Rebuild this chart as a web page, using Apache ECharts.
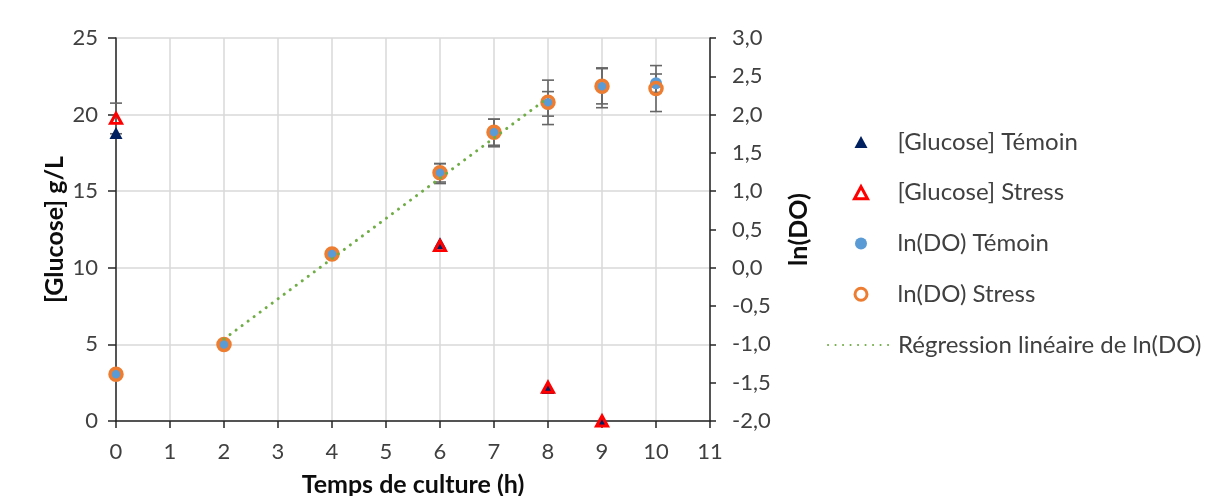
<!DOCTYPE html>
<html>
<head>
<meta charset="utf-8">
<script src="https://cdn.jsdelivr.net/npm/echarts@6/dist/echarts.min.js"></script>
<style>
  html, body { margin: 0; padding: 0; background: #ffffff; }
  #chart { width: 1208px; height: 496px; }
</style>
</head>
<body>
<div id="chart"></div>
<script>
// ---- Data ----
const glucoseHours = [0, 6, 8, 9];
const glucoseTemoin = [18.8, 11.6, 2.15, 0];
const glucoseStress = [19.75, 11.45, 2.2, 0];
const glucoseTemoinErr = [0, 0, 0, 0];
const glucoseStressErr = [1.0, 0, 0, 0];

const lnHours = [0, 2, 4, 6, 7, 8, 9, 10];
const lnTemoin = [-1.39, -1.0, 0.18, 1.23, 1.76, 2.14, 2.35, 2.41];
const lnStress = [-1.39, -1.0, 0.18, 1.24, 1.77, 2.16, 2.37, 2.34];
const lnTemoinErr = [0, 0, 0, 0.13, 0.18, 0.16, 0.26, 0.12];
const lnStressErr = [0, 0, 0, 0.12, 0.17, 0.29, 0.23, 0.30];

const regressionHours = [2, 8];
const regressionValues = [-0.93, 2.22];

const seriesNames = ['[Glucose] Témoin', '[Glucose] Stress', 'ln(DO) Témoin', 'ln(DO) Stress', 'Régression linéaire de ln(DO)'];
const xAxisName = 'Temps de culture (h)';
const leftAxisName = '[Glucose] g/L';
const rightAxisName = 'ln(DO)';

// ---- Helpers ----
const FONT = 'Lato';
const pairs = (xs, ys) => xs.map((x, i) => [x, ys[i]]);
const errData = (xs, ys, es) => xs.map((x, i) => [x, ys[i] - es[i], ys[i] + es[i]]).filter((d, i) => es[i] > 0);

function errorBarRender(params, api) {
  const x = api.value(0);
  const lo = api.coord([x, api.value(1)]);
  const hi = api.coord([x, api.value(2)]);
  const half = 6;
  const style = { stroke: '#666666', lineWidth: 1.6, fill: null };
  return {
    type: 'group',
    children: [
      { type: 'line', shape: { x1: lo[0], y1: lo[1], x2: hi[0], y2: hi[1] }, style: style },
      { type: 'line', shape: { x1: hi[0] - half, y1: hi[1], x2: hi[0] + half, y2: hi[1] }, style: style },
      { type: 'line', shape: { x1: lo[0] - half, y1: lo[1], x2: lo[0] + half, y2: lo[1] }, style: style }
    ]
  };
}

const errSeries = (data, yAxisIndex) => ({
  type: 'custom',
  coordinateSystem: 'cartesian2d',
  yAxisIndex: yAxisIndex,
  renderItem: errorBarRender,
  data: data,
  encode: { x: 0, y: [1, 2] },
  z: 1,
  silent: true
});

const axisLineStyle = { color: '#262626', width: 1.5 };
const labelStyle = { color: '#404040', fontFamily: FONT, fontSize: 22 };
const nameStyle = { color: '#0d0d0d', fontFamily: FONT, fontSize: 25, fontWeight: 'bold' };
const legendText = { color: '#404040', fontFamily: FONT, fontSize: 24, lineHeight: 26 };

const option = {
  animation: false,
  backgroundColor: '#ffffff',
  grid: { left: 116, right: 498, top: 38, bottom: 75, containLabel: false, outerBoundsMode: 'none' },
  legend: [
    {
      orient: 'vertical',
      left: 848,
      top: 124,
      itemWidth: 13,
      itemHeight: 12,
      itemGap: 24.75,
      selectedMode: false,
      textStyle: Object.assign({ padding: [0, 0, 0, 25] }, legendText),
      data: [
        { name: seriesNames[0], icon: 'triangle', itemStyle: { color: '#002060', borderWidth: 0 } },
        { name: seriesNames[1], icon: 'triangle', itemStyle: { color: '#ffffff', borderColor: '#ff0000', borderWidth: 3 } },
        { name: seriesNames[2], icon: 'circle', itemStyle: { color: '#5b9bd5', borderWidth: 0 } },
        { name: seriesNames[3], icon: 'circle', itemStyle: { color: '#ffffff', borderColor: '#ed7d31', borderWidth: 3 } }
      ]
    },
    {
      orient: 'vertical',
      left: 822,
      top: 327,
      itemWidth: 65,
      itemHeight: 12,
      selectedMode: false,
      textStyle: Object.assign({ padding: [0, 0, 0, 0] }, legendText),
      data: [
        { name: seriesNames[4], itemStyle: { color: 'rgba(0,0,0,0)', borderWidth: 0, opacity: 0 } }
      ]
    }
  ],
  xAxis: {
    type: 'value',
    min: 0, max: 11, interval: 1,
    name: xAxisName,
    nameLocation: 'middle',
    nameGap: 51,
    nameTextStyle: nameStyle,
    axisLine: { show: true, onZero: false, lineStyle: axisLineStyle },
    axisTick: { show: true, length: 7, lineStyle: axisLineStyle },
    axisLabel: Object.assign({ margin: 20 }, labelStyle),
    splitLine: { show: true, lineStyle: { color: '#d9d9d9', width: 1.5 } }
  },
  yAxis: [
    {
      type: 'value',
      position: 'left',
      min: 0, max: 25, interval: 5,
      name: leftAxisName,
      nameLocation: 'middle',
      nameRotate: 90,
      nameGap: 49,
      nameTextStyle: nameStyle,
      axisLine: { show: true, lineStyle: axisLineStyle },
      axisTick: { show: true, length: 8, lineStyle: axisLineStyle },
      axisLabel: Object.assign({ margin: 18 }, labelStyle),
      splitLine: { show: true, lineStyle: { color: '#d9d9d9', width: 1.5 } }
    },
    {
      type: 'value',
      position: 'right',
      min: -2, max: 3, interval: 0.5,
      name: rightAxisName,
      nameLocation: 'middle',
      nameRotate: 90,
      nameGap: 76,
      nameTextStyle: nameStyle,
      axisLine: { show: true, lineStyle: axisLineStyle },
      axisTick: { show: true, length: 6, lineStyle: axisLineStyle },
      axisLabel: Object.assign({ margin: 22, formatter: v => v.toFixed(1).replace('.', ',') }, labelStyle),
      splitLine: { show: false }
    }
  ],
  series: [
    errSeries(errData(glucoseHours, glucoseTemoin, glucoseTemoinErr), 0),
    errSeries(errData(glucoseHours, glucoseStress, glucoseStressErr), 0),
    errSeries(errData(lnHours, lnTemoin, lnTemoinErr), 1),
    errSeries(errData(lnHours, lnStress, lnStressErr), 1),
    {
      name: seriesNames[0],
      type: 'scatter',
      yAxisIndex: 0,
      symbol: 'triangle',
      symbolSize: [13, 12],
      itemStyle: { color: '#002060', opacity: 1 },
      data: pairs(glucoseHours, glucoseTemoin),
      z: 3
    },
    {
      name: seriesNames[1],
      type: 'scatter',
      yAxisIndex: 0,
      symbol: 'triangle',
      symbolSize: [11, 10],
      itemStyle: { color: 'rgba(255,255,255,0)', borderColor: '#ff0000', borderWidth: 3, opacity: 1 },
      data: pairs(glucoseHours, glucoseStress),
      z: 4
    },
    {
      name: seriesNames[2],
      type: 'scatter',
      yAxisIndex: 1,
      symbol: 'circle',
      symbolSize: 12,
      itemStyle: { color: '#5b9bd5', opacity: 1 },
      data: pairs(lnHours, lnTemoin),
      z: 5
    },
    {
      name: seriesNames[3],
      type: 'scatter',
      yAxisIndex: 1,
      symbol: 'circle',
      symbolSize: 12,
      itemStyle: { color: 'rgba(255,255,255,0)', borderColor: '#ed7d31', borderWidth: 3.5, opacity: 1 },
      data: pairs(lnHours, lnStress),
      z: 6
    },
    {
      name: seriesNames[4],
      type: 'line',
      yAxisIndex: 1,
      symbol: 'none',
      lineStyle: { color: '#70ad47', width: 3, type: [0.1, 7.4], cap: 'round' },
      itemStyle: { color: '#70ad47' },
      data: pairs(regressionHours, regressionValues),
      z: 7
    }
  ]
};

const chart = echarts.init(document.getElementById('chart'), null, { renderer: 'canvas' });
chart.setOption(option);
</script>
</body>
</html>
